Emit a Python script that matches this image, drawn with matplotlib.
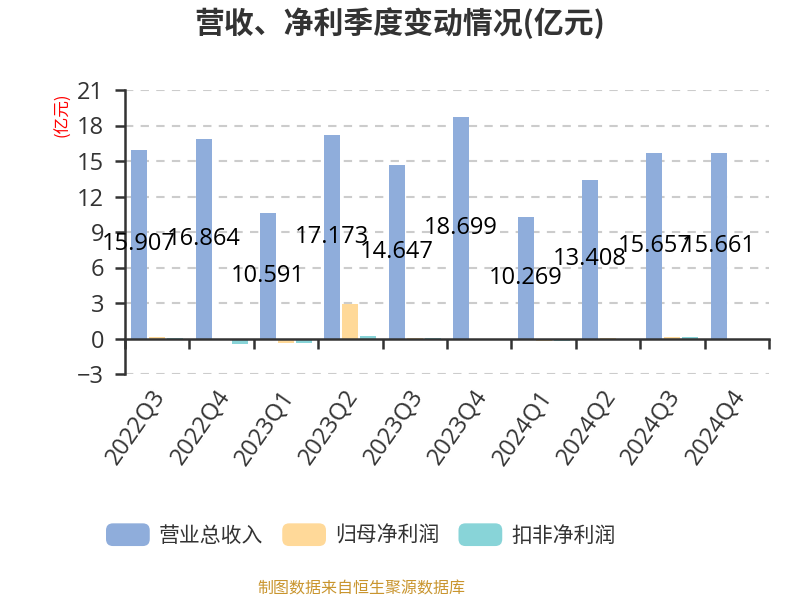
import matplotlib
matplotlib.use("Agg")
import matplotlib.pyplot as plt
import numpy as np
from matplotlib.patches import Patch, FancyBboxPatch
from matplotlib.legend_handler import HandlerPatch

plt.rcParams['font.family'] = ['Noto Sans CJK SC', 'DejaVu Sans']
NUMFONT = ['Open Sans', 'Noto Sans CJK SC', 'DejaVu Sans']

quarters = ["2022Q3", "2022Q4", "2023Q1", "2023Q2", "2023Q3",
            "2023Q4", "2024Q1", "2024Q2", "2024Q3", "2024Q4"]
revenue = [15.907, 16.864, 10.591, 17.173, 14.647, 18.699, 10.269, 13.408, 15.657, 15.661]
net_profit = [0.10, -0.15, -0.38, 2.95, 0.03, 0.0, -0.23, 0.04, 0.10, -0.08]
deducted_profit = [0.05, -0.45, -0.42, 0.20, 0.02, 0.0, -0.25, -0.03, 0.12, -0.08]
series_names = ["营业总收入", "归母净利润", "扣非净利润"]
colors = ["#8FADDB", "#FFD999", "#88D4D8"]
yticks = [-3, 0, 3, 6, 9, 12, 15, 18, 21]

fig = plt.figure(figsize=(8, 6), dpi=100)
ax = fig.add_axes([125/800, 1-374/600, 644/800, 284/600])

x = np.arange(len(quarters))
w = 0.25
step = 0.28
handles = []
for k, vals in enumerate([revenue, net_profit, deducted_profit]):
    ax.bar(x + (k-1)*step, vals, width=w, color=colors[k], zorder=3)
    handles.append(Patch(facecolor=colors[k], label=series_names[k]))

# value labels in the middle of the revenue bars
for i, v in enumerate(revenue):
    ax.text(i - step, v/2, f"{v:.3f}", ha="center", va="center",
            fontsize=17, color="black", zorder=10, family=NUMFONT)

ax.set_xlim(-0.5, len(quarters) - 0.5)
ax.set_ylim(-3, 21)
ax.set_yticks(yticks)
for t in yticks:
    if t != 0:
        ax.axhline(t, color="#cccccc", lw=1.5, ls=(0, (4, 3.5)), zorder=1)

for s in ["top", "right"]:
    ax.spines[s].set_visible(False)
ax.spines["bottom"].set_position(("data", 0))
ax.spines["bottom"].set_color("#333333")
ax.spines["bottom"].set_linewidth(1.8)
ax.spines["bottom"].set_zorder(4)
ax.spines["left"].set_color("#333333")
ax.spines["left"].set_linewidth(1.8)

ax.set_xticks(np.arange(len(quarters) + 1) - 0.5)
ax.set_xticklabels([])
ax.tick_params(axis="x", direction="out", length=7, width=1.8, color="#333333")
ax.tick_params(axis="y", direction="out", length=7, width=1.8, color="#333333",
               labelsize=17, labelcolor="#333333", pad=8)
for lab in ax.get_yticklabels():
    lab.set_family(NUMFONT)

for i, q in enumerate(quarters):
    ax.text(i + 0.06, -0.065, q, transform=ax.get_xaxis_transform(),
            rotation=55, rotation_mode="anchor", ha="right", va="center",
            fontsize=17, color="#333333", family=NUMFONT)

fig.text(0.5, 1 - 23/600, "营收、净利季度变动情况(亿元)", ha="center", va="center",
         fontsize=21.5, fontweight="bold", color="#333333")
fig.text(63/800, 1 - 115/600, "(亿元)", rotation=90, ha="center", va="center",
         fontsize=12, color="red")
fig.text(361/800, 1 - 589/600, "制图数据来自恒生聚源数据库", ha="center", va="center",
         fontsize=11.5, color="#C9952E")


class RoundHandler(HandlerPatch):
    def create_artists(self, legend, orig_handle, xdescent, ydescent, width,
                       height, fontsize, trans):
        p = FancyBboxPatch((-xdescent, -ydescent), width, height,
                           boxstyle="round,pad=0,rounding_size=5",
                           facecolor=orig_handle.get_facecolor(),
                           edgecolor="none", transform=trans)
        return [p]


leg = fig.legend(handles=handles, loc="center", bbox_to_anchor=(361/800, 1 - 535/600),
                 ncol=3, frameon=False, fontsize=15, handlelength=2.1,
                 handleheight=1.3, handletextpad=0.45, columnspacing=0.9,
                 handler_map={Patch: RoundHandler()})
for t in leg.get_texts():
    t.set_color("#333333")

fig.savefig("out.png", dpi=100)
